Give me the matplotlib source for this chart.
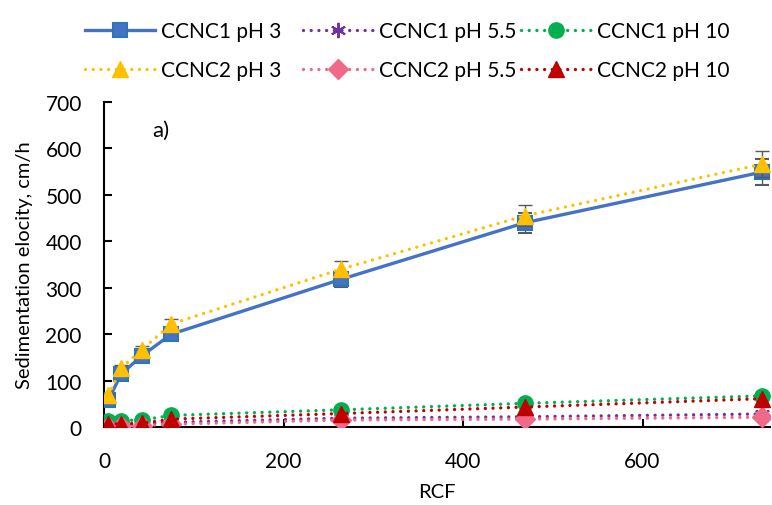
import numpy as np
import matplotlib.pyplot as plt

plt.rcParams['font.family'] = ['Lato', 'DejaVu Sans']

rcf = [5, 19, 42, 75, 264, 469, 733]

ccnc1_ph3 = [58, 114, 153, 200, 318, 440, 549]
ccnc1_ph55 = [4, 5, 7, 10, 19, 22, 28]
ccnc1_ph10 = [14, 14, 15, 25, 37, 51, 67]
ccnc2_ph3 = [68, 127, 166, 222, 340, 455, 566]
ccnc2_ph55 = [1, 2, 3, 6, 15, 17, 21]
ccnc2_ph10 = [7, 7, 8, 17, 29, 43, 61]

err_ph3_1 = [0.05 * v for v in ccnc1_ph3]
err_ph3_2 = [0.05 * v for v in ccnc2_ph3]

labels = ["CCNC1 pH 3", "CCNC1 pH 5.5", "CCNC1 pH 10",
          "CCNC2 pH 3", "CCNC2 pH 5.5", "CCNC2 pH 10"]

fig = plt.figure(figsize=(7.72, 5.06), dpi=100)
ax = fig.add_axes([104 / 772, 1 - 428 / 506, 666 / 772, (428 - 103) / 506])

dots = (0, (0.01, 2.3))
ebkw = dict(ecolor="#595959", elinewidth=1.0, capsize=5, capthick=1.0)

h1 = ax.errorbar(rcf, ccnc1_ph3, yerr=err_ph3_1, color="#4472C4", lw=2.4,
                 marker="s", ms=10, mfc="#4472C4", mec="#2E75B6", mew=1.5,
                 zorder=3, **ebkw)
h2, = ax.plot(rcf, ccnc1_ph55, color="#7030A0", lw=2.4, ls=dots,
              dash_capstyle="round", marker=(6, 2, 0), ms=11, mew=1.4,
              zorder=3)
h3, = ax.plot(rcf, ccnc1_ph10, color="#00B050", lw=2.4, ls=dots,
              dash_capstyle="round", marker="o", ms=11, zorder=3)
h4 = ax.errorbar(rcf, ccnc2_ph3, yerr=err_ph3_2, color="#FFC000", lw=2.4,
                 ls=dots, marker="^", ms=12, mec="#FFC000", zorder=4, **ebkw)
h4[0].set_dash_capstyle("round")
h5, = ax.plot(rcf, ccnc2_ph55, color="#EE6A88", lw=2.4, ls=dots,
              dash_capstyle="round", marker="D", ms=10, zorder=4)
h6, = ax.plot(rcf, ccnc2_ph10, color="#C00000", lw=2.4, ls=dots,
              dash_capstyle="round", marker="^", ms=12, zorder=4)

ax.set_xlim(0, 742)
ax.set_ylim(0, 700)
ax.set_xticks([0, 200, 400, 600])
ax.set_yticks(np.arange(0, 701, 100))
ax.tick_params(direction="in", length=6, width=1.5, labelsize=15)
ax.tick_params(axis="y", pad=16)
ax.tick_params(axis="x", pad=17)
for s in ["top", "right"]:
    ax.spines[s].set_visible(False)
for s in ["left", "bottom"]:
    ax.spines[s].set_linewidth(1.5)

ax.set_xlabel("RCF", fontsize=14.5, labelpad=9)
ax.set_ylabel("Sedimentation elocity, cm/h", fontsize=14.5, labelpad=9)
ax.text(0.085, 0.915, "a)", transform=ax.transAxes, fontsize=16,
        ha="center", va="center")

handles = [h1[0], h2, h3, h4[0], h5, h6]
cols_x = [70, 288, 506]
for i, x in enumerate(cols_x):
    fig.legend([handles[i], handles[i + 3]], [labels[i], labels[i + 3]],
               loc="upper left", bbox_to_anchor=(x / 772, 0.985),
               frameon=False, fontsize=15, handlelength=3.37,
               handletextpad=0.29, labelspacing=0.9, borderaxespad=0.3)

fig.savefig("out.png", dpi=100)
